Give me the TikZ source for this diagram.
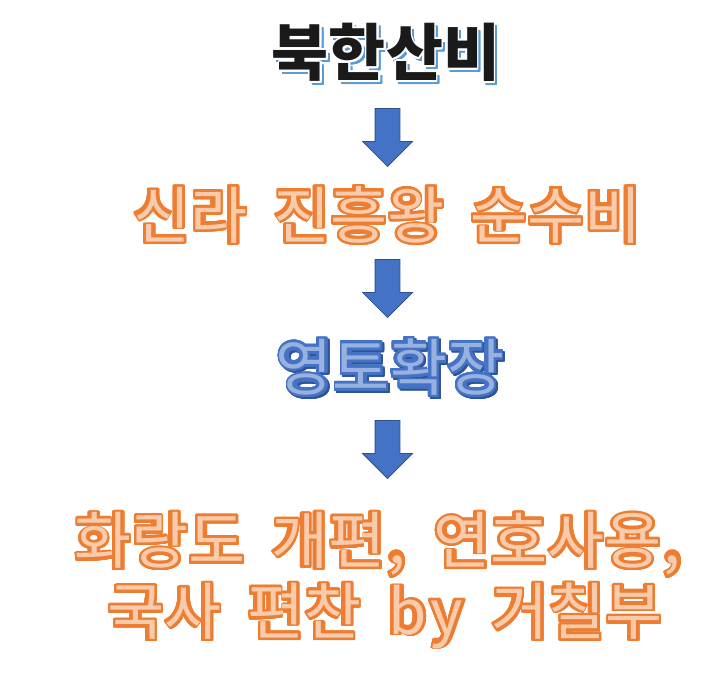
\documentclass[tikz,border=0pt]{standalone}
\usepackage{fontspec}
\setmainfont{Noto Sans CJK KR}
\usetikzlibrary{shapes.arrows}

\definecolor{orangeline}{HTML}{ED7D31}
\definecolor{peachfill}{HTML}{F8CBAD}
\definecolor{arrowblue}{HTML}{4472C4}
\definecolor{arrowline}{HTML}{2F528F}
\definecolor{shadowblue}{HTML}{5B9BD5}
\definecolor{titleblack}{HTML}{1A1A1A}
\definecolor{paleblue}{HTML}{98B1DF}
\definecolor{deepblue}{HTML}{2F5597}

\newsavebox\laybox
\newsavebox\titlebox
\newcommand{\gap}{\hspace{0.42em}}
% copies of a box on a small circle, as an outline
\newcommand{\ring}[3]{%
  \foreach \ang in {0,22.5,...,337.5}{%
    \pgfmathsetmacro\ringx{#2*cos(\ang)}%
    \pgfmathsetmacro\ringy{#2*sin(\ang)}%
    \rlap{\hspace{\ringx pt}\raisebox{\ringy pt}{\color{#1}#3}}}}
\makeatletter
% bold glyph in the outline colour, regular glyph in the fill colour on top
\newcommand{\layered}[3]{%
  \@tfor\lay@ch:=#3\do{%
    \setbox\laybox\hbox{\bfseries\lay@ch}%
    \rlap{\ring{#1}{0.9}{\usebox\laybox}}%
    \rlap{\color{#1}\usebox\laybox}%
    \makebox[\wd\laybox][c]{\color{#2}\mdseries\lay@ch}}}
\makeatother
\newcommand{\shadowed}[1]{%
  \setbox\titlebox\hbox{\bfseries #1}%
  \rlap{\hspace{3pt}\raisebox{-3pt}{\ring{shadowblue}{0.6}{\usebox\titlebox}\color{shadowblue}\usebox\titlebox}}%
  \rlap{\ring{white}{1.8}{\usebox\titlebox}}%
  {\color{titleblack}\usebox\titlebox}}
\newcommand{\dropped}[1]{%
  \rlap{\hspace{2pt}\raisebox{-2pt}{\layered{deepblue}{deepblue}{#1}}}%
  \layered{arrowblue}{paleblue}{#1}}

\begin{document}
\begin{tikzpicture}[x=1pt, y=-1pt,
  wordart/.style={inner sep=0pt, align=center, font=\fontsize{62}{71}\selectfont},
  downarrow/.style={single arrow, draw=arrowline, fill=arrowblue, line width=0.8pt,
    shape border rotate=270, minimum height=58pt, minimum width=49pt,
    single arrow head extend=12.5pt, single arrow tip angle=90, inner sep=12pt, anchor=tip},
]
  \useasboundingbox (0,0) rectangle (720,680);
  \node[wordart] (bukhansan) at (386,53.5) {\shadowed{북한산비}};
  \node[downarrow] (arrowa) at (387.5,167) {};
  \node[wordart] (silla) at (387.5,215) {\layered{orangeline}{peachfill}{신라\gap 진흥왕\gap 순수비}};
  \node[downarrow] (arrowb) at (387.5,318) {};
  \node[wordart] (territory) at (390,368) {\dropped{영토확장}};
  \node[downarrow] (arrowc) at (387.5,479) {};
  \node[wordart] (reform) at (379,580) {\layered{orangeline}{peachfill}{화랑도\gap 개편,\gap 연호사용,}\\
    \hspace*{12pt}\layered{orangeline}{peachfill}{국사\gap 편찬\gap by\gap 거칠부}};
\end{tikzpicture}
\end{document}
